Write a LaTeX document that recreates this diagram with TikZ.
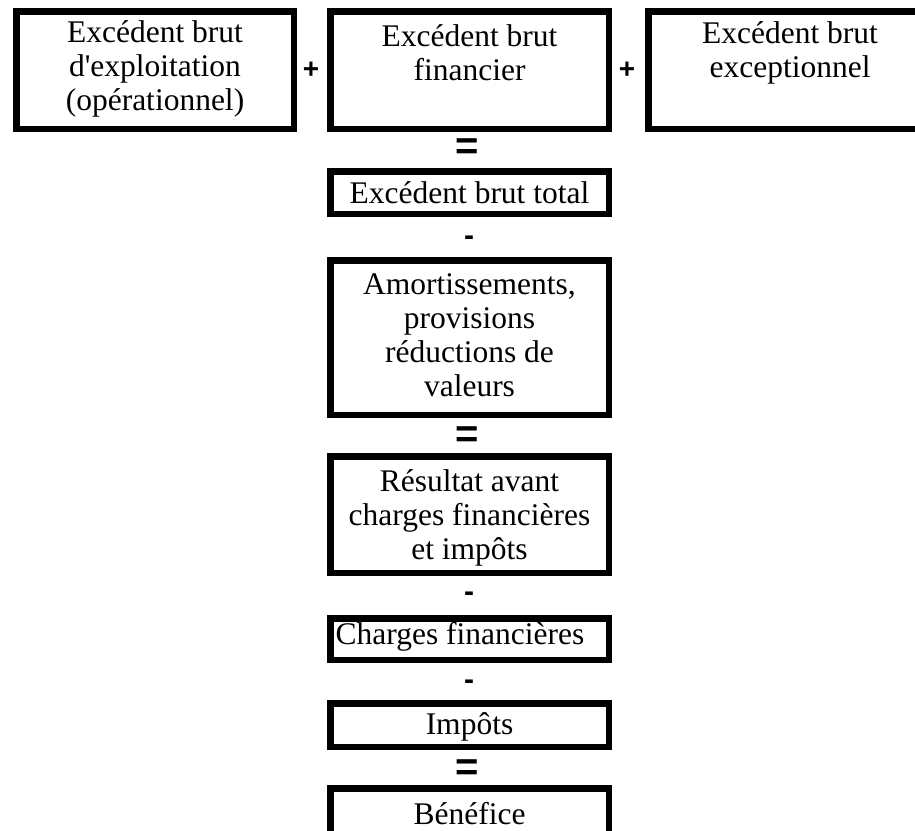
\documentclass[tikz,border=0pt]{standalone}
\usepackage{fontspec}
\setmainfont{Liberation Serif}
\newfontfamily\signfont{Liberation Sans}
\begin{document}
\begin{tikzpicture}[x=1pt,y=-1pt,
  cell/.style={draw=black, line width=6.5pt, rectangle, inner sep=0pt, outer sep=0pt},
  txt/.style={align=center, inner sep=0pt, font=\fontsize{31.5}{34}\selectfont},
  plus/.style={inner sep=0pt, font=\signfont\bfseries\fontsize{28}{28}\selectfont},
  eqsign/.style={inner sep=0pt, font=\signfont\bfseries\fontsize{40}{40}\selectfont},
  minus/.style={inner sep=0pt, font=\signfont\bfseries\fontsize{30}{30}\selectfont}]
\clip (0,0) rectangle (915,830);
\fill[white] (0,0) rectangle (915,830);
% boxes
\node[cell, minimum width=277.5pt, minimum height=117.5pt] (b1) at (155,70) {};
\node[cell, minimum width=278.5pt, minimum height=117.5pt] (b2) at (469.5,70) {};
\node[cell, minimum width=282pt, minimum height=117.5pt] (b3) at (789.25,70) {};
\node[cell, minimum width=278.5pt, minimum height=42.5pt] (tot) at (469.5,192.5) {};
\node[cell, minimum width=278.5pt, minimum height=154.5pt] (amo) at (469.5,337.5) {};
\node[cell, minimum width=278.5pt, minimum height=116.5pt] (res) at (469.5,514.5) {};
\node[cell, minimum width=278.5pt, minimum height=41.5pt] (chf) at (469.5,639) {};
\node[cell, minimum width=278.5pt, minimum height=43.5pt] (imp) at (469.5,725) {};
\node[cell, minimum width=278.5pt, minimum height=111.5pt] (ben) at (469.5,844) {};
% texts
\node[txt] (t1) at (155,69) {Excédent brut\\d\textquotesingle exploitation\\(opérationnel)};
\node[txt] (t2) at (469.5,52.5) {Excédent brut\\financier};
\node[txt] (t3) at (790,52.5) {Excédent brut\\exceptionnel};
\node[txt] (ttot) at (469.5,193) {Excédent brut total};
\node[txt] (tamo) at (469.5,335.5) {Amortissements,\\provisions\\réductions de\\valeurs};
\node[txt] (tres) at (469.5,518) {Résultat avant\\charges financières\\et impôts};
\node[txt] (tchf) at (460,637) {Charges financières};
\node[txt] (timp) at (469.5,727) {Impôts};
\node[txt] (tben) at (469.5,814) {Bénéfice};
% signs
\node[plus] (p1) at (311,70) {+};
\node[plus] (p2) at (627,70) {+};
\node[eqsign] (e1) at (467,149) {=};
\node[minus] (m1) at (469,241) {-};
\node[eqsign] (e2) at (467,437) {=};
\node[minus] (m2) at (469,597) {-};
\node[minus] (m3) at (469,685) {-};
\node[eqsign] (e3) at (467,770) {=};
\end{tikzpicture}
\end{document}
